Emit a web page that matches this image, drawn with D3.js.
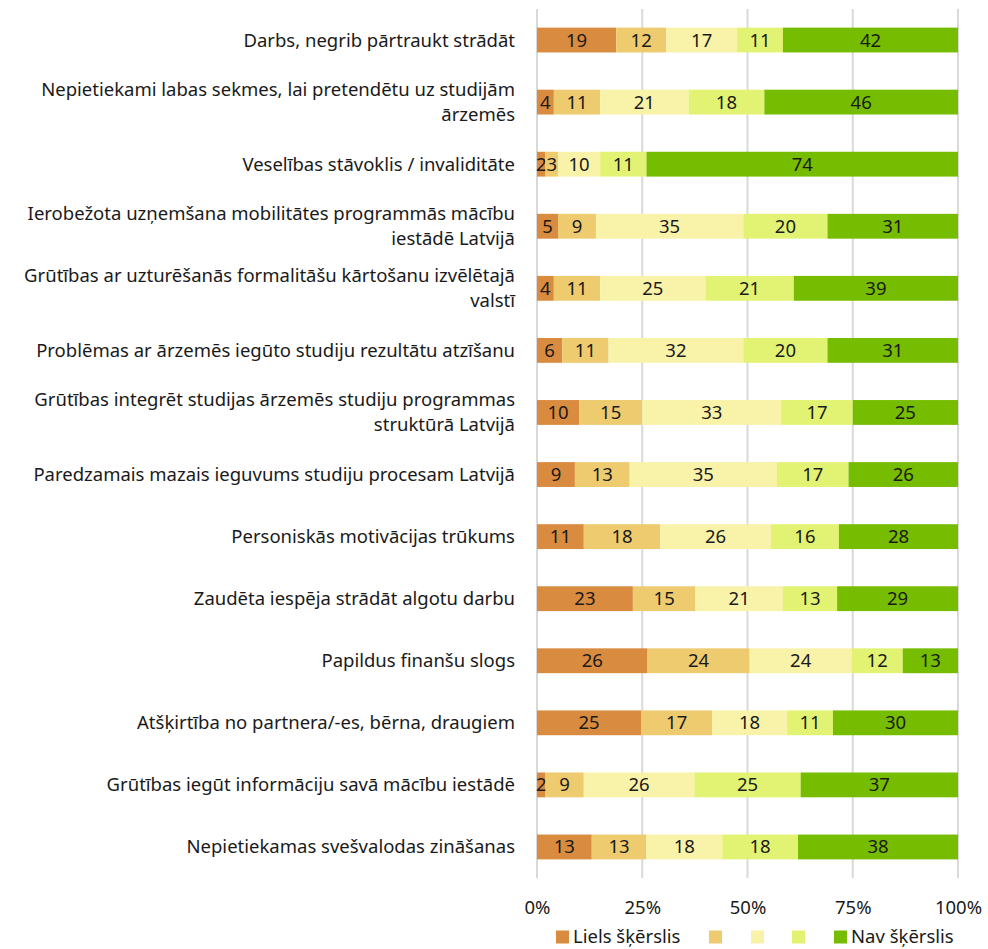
<!DOCTYPE html>
<html><head><meta charset="utf-8">
<script src="https://cdn.jsdelivr.net/npm/d3@7"></script>
<style>body{margin:0;background:#fff}svg text{font-family:"Noto Sans",sans-serif}</style>
</head><body><svg id="c" width="988" height="949"></svg>
<script>
const categories = [
  "Darbs, negrib pārtraukt strādāt",
  "Nepietiekami labas sekmes, lai pretendētu uz studijām|ārzemēs",
  "Veselības stāvoklis / invaliditāte",
  "Ierobežota uzņemšana mobilitātes programmās mācību|iestādē Latvijā",
  "Grūtības ar uzturēšanās formalitāšu kārtošanu izvēlētajā|valstī",
  "Problēmas ar ārzemēs iegūto studiju rezultātu atzīšanu",
  "Grūtības integrēt studijas ārzemēs studiju programmas|struktūrā Latvijā",
  "Paredzamais mazais ieguvums studiju procesam Latvijā",
  "Personiskās motivācijas trūkums",
  "Zaudēta iespēja strādāt algotu darbu",
  "Papildus finanšu slogs",
  "Atšķirtība no partnera/-es, bērna, draugiem",
  "Grūtības iegūt informāciju savā mācību iestādē",
  "Nepietiekamas svešvalodas zināšanas"
];
const seriesNames = ["Liels šķērslis", "", "", "", "Nav šķērslis"];
const s1 = [19, 4, 2, 5, 4, 6, 10, 9, 11, 23, 26, 25, 2, 13];
const s2 = [12, 11, 3, 9, 11, 11, 15, 13, 18, 15, 24, 17, 9, 13];
const s3 = [17, 21, 10, 35, 25, 32, 33, 35, 26, 21, 24, 18, 26, 18];
const s4 = [11, 18, 11, 20, 21, 20, 17, 17, 16, 13, 12, 11, 25, 18];
const s5 = [42, 46, 74, 31, 39, 31, 25, 26, 28, 29, 13, 30, 37, 38];
const tickValues = [0, 0.25, 0.5, 0.75, 1];
const colors = ["#D98B3F", "#EDCB6E", "#F9F2A9", "#E2F373", "#76BC00"];

const series = [s1, s2, s3, s4, s5];
const keys = ["a", "b", "c", "d", "e"];
const rows = categories.map((c, i) => {
  const o = {cat: c};
  const tot = d3.sum(series, s => s[i]);
  keys.forEach((k, j) => { o[k] = series[j][i] / tot; o[k + "_v"] = series[j][i]; });
  return o;
});
const stack = d3.stack().keys(keys)(rows);

const FS = 18.5;
const svg = d3.select("#c");
const x = d3.scaleLinear().domain([0, 1]).range([537, 958]);
const y = d3.scaleBand().domain(categories).range([9, 878]).paddingInner(0.6).paddingOuter(0.3);

svg.append("g").selectAll("line").data(tickValues).join("line")
  .attr("x1", d => x(d)).attr("x2", d => x(d)).attr("y1", 9).attr("y2", 878)
  .attr("stroke", "#d9d9d9").attr("stroke-width", 2);

const g = svg.append("g");
stack.forEach((layer, j) => {
  g.append("g").attr("fill", colors[j]).selectAll("rect").data(layer).join("rect")
    .attr("x", d => x(d[0])).attr("width", d => x(d[1]) - x(d[0]))
    .attr("y", d => y(d.data.cat)).attr("height", y.bandwidth());
  g.append("g").selectAll("text").data(layer).join("text")
    .attr("x", d => (x(d[0]) + x(d[1])) / 2)
    .attr("y", d => y(d.data.cat) + y.bandwidth() / 2)
    .attr("dy", "0.35em").attr("text-anchor", "middle")
    .attr("font-size", FS).attr("fill", "#1a1a1a")
    .text(d => d.data[keys[j] + "_v"]);
});

const lab = svg.append("g").selectAll("text").data(categories).join("text")
  .attr("text-anchor", "end").attr("font-size", FS).attr("fill", "#1a1a1a")
  .attr("transform", d => `translate(515,${y(d) + y.bandwidth() / 2})`);
lab.each(function(d) {
  const lines = d.split("|");
  const t = d3.select(this);
  lines.forEach((l, k) => {
    t.append("tspan").attr("x", 0)
      .attr("y", (k - (lines.length - 1) / 2) * 25)
      .attr("dy", "0.35em").text(l);
  });
});

const ax = svg.append("g").attr("transform", "translate(0,908)")
  .call(d3.axisBottom(x).tickValues(tickValues).tickFormat(d3.format(".0%")).tickSize(0));
ax.select(".domain").remove();
ax.selectAll("text").attr("font-size", FS).attr("fill", "#1a1a1a").attr("dy", "0.35em").attr("y", 0)
  .attr("font-family", "Noto Sans, sans-serif");

const legX = [556, 709, 751, 792, 834];
const leg = svg.append("g").selectAll("g").data(seriesNames).join("g")
  .attr("transform", (d, i) => `translate(${legX[i]},937)`);
leg.append("rect").attr("x", 0).attr("y", -6.5).attr("width", 13).attr("height", 13)
  .attr("fill", (d, i) => colors[i]);
leg.append("text").attr("x", 17).attr("dy", "0.35em").attr("font-size", FS).attr("fill", "#1a1a1a").text(d => d);
</script></body></html>
